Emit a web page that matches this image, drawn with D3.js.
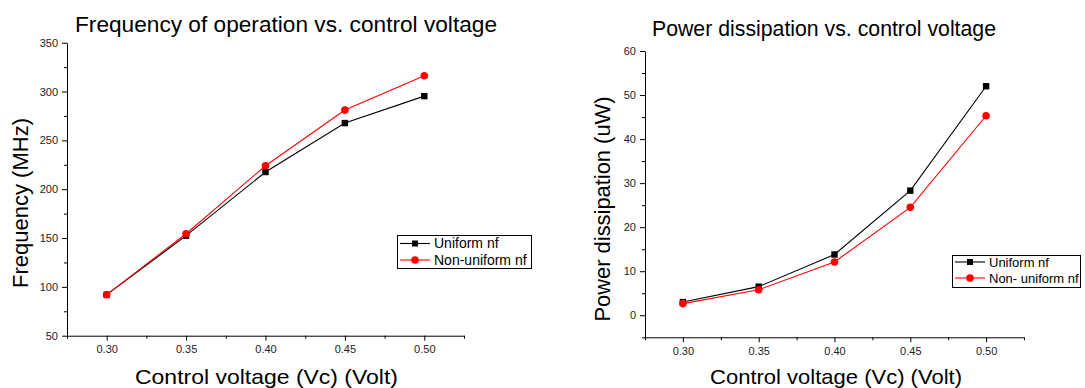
<!DOCTYPE html>
<html>
<head>
<meta charset="utf-8">
<script src="https://cdn.jsdelivr.net/npm/d3@7"></script>
<style>
  body { margin: 0; background: #fff; }
  svg { display: block; font-family: "Liberation Sans", Arial, sans-serif; }
  .tick text { fill: #222; }
</style>
</head>
<body>
<div class="charts"></div>
<script>
// data
const voltages = [0.30, 0.35, 0.40, 0.45, 0.50];
const freqUniform = [92, 152.4, 217.6, 267.7, 295.3];
const freqNonUniform = [92, 154.4, 224, 281, 316.2];
const powerUniform = [3.0, 6.5, 13.8, 28.3, 52.0];
const powerNonUniform = [2.65, 5.8, 12.1, 24.5, 45.3];
const freqTicks = [50, 100, 150, 200, 250, 300, 350];
const freqMinor = [75, 125, 175, 225, 275, 325];
const powerTicks = [0, 10, 20, 30, 40, 50, 60];
const powerMinor = [-5, 5, 15, 25, 35, 45, 55];
const voltMinor = [0.275, 0.325, 0.375, 0.425, 0.475, 0.525];

const svg = d3.select(".charts").append("svg")
  .attr("width", 1085)
  .attr("height", 388);

// text with a fixed drawn width (the original picture is a bit stretched)
function label(g, x, y, size, len, txt) {
  return g.append("text").attr("x", x).attr("y", y)
    .attr("text-anchor", "middle").attr("font-size", size)
    .attr("textLength", len).attr("lengthAdjust", "spacingAndGlyphs")
    .text(txt);
}

function drawChart(c) {
  let g = svg.append("g");
  let x = d3.scaleLinear().domain([0.275, 0.525]).range([c.x0, c.x1]);
  let y = d3.scaleLinear().domain(c.yDomain).range([c.y0, c.y1]);

  // minor ticks first
  g.append("g").attr("transform", "translate(0," + c.y0 + ")")
    .call(d3.axisBottom(x).tickValues(voltMinor).tickSize(3).tickFormat(""))
    .call(a => a.select(".domain").remove());
  g.append("g").attr("transform", "translate(" + c.x0 + ",0)")
    .call(d3.axisLeft(y).tickValues(c.yMinor).tickSize(3).tickFormat(""))
    .call(a => a.select(".domain").remove());

  g.append("g").attr("transform", "translate(0," + c.y0 + ")")
    .call(d3.axisBottom(x).tickValues(voltages).tickFormat(d3.format(".2f"))
      .tickSize(5).tickSizeOuter(0).tickPadding(5));
  g.append("g").attr("transform", "translate(" + c.x0 + ",0)")
    .call(d3.axisLeft(y).tickValues(c.yTicks).tickSize(5).tickSizeOuter(0).tickPadding(4));
  g.selectAll(".tick text").attr("font-size", 11).attr("font-family", "Liberation Sans");
  g.selectAll(".domain, .tick line").attr("stroke", "#000");

  // lines + markers
  let series = [
    {vals: c.s1, color: "#000", shape: "square"},
    {vals: c.s2, color: "#ff0000", shape: "circle"}
  ];
  let line = d3.line().x((d, i) => x(voltages[i])).y(d => y(d));
  series.forEach(s => {
    g.append("path").attr("d", line(s.vals))
      .attr("fill", "none").attr("stroke", s.color).attr("stroke-width", 1.1);
    if (s.shape == "square") {
      g.selectAll(null).data(s.vals).enter().append("rect")
        .attr("x", (d, i) => x(voltages[i]) - 3.2)
        .attr("y", d => y(d) - 3.2)
        .attr("width", 6.4).attr("height", 6.4)
        .attr("fill", s.color);
    } else {
      g.selectAll(null).data(s.vals).enter().append("circle")
        .attr("cx", (d, i) => x(voltages[i]))
        .attr("cy", d => y(d))
        .attr("r", 3.8)
        .attr("fill", s.color);
    }
  });

  // titles
  label(g, c.titleX, c.titleY, 21.5, c.titleLen, c.title);
  label(g, c.xLabelX, 384, 21, c.xLabelLen, "Control voltage (Vc) (Volt)");
  label(g, 0, 0, c.yLabelSize, c.yLabelLen, c.yLabel)
    .attr("transform", "translate(" + c.yLabelX + "," + c.yLabelY + ") rotate(-90)");

  // legend
  let lg = g.append("g").attr("transform", "translate(" + c.lg[0] + "," + c.lg[1] + ")");
  lg.append("rect").attr("x", 0.5).attr("y", 0.5).attr("width", c.lg[2]).attr("height", c.lg[3])
    .attr("fill", "#fff").attr("stroke", "#000").attr("stroke-width", 1);
  series.forEach((s, i) => {
    let yy = c.lgRows[i];
    lg.append("line").attr("x1", 3).attr("x2", 33).attr("y1", yy).attr("y2", yy)
      .attr("stroke", s.color).attr("stroke-width", 1.1);
    if (s.shape == "square") {
      lg.append("rect").attr("x", 18 - 3).attr("y", yy - 3).attr("width", 6).attr("height", 6).attr("fill", s.color);
    } else {
      lg.append("circle").attr("cx", 18).attr("cy", yy).attr("r", 3.8).attr("fill", s.color);
    }
    lg.append("text").attr("x", 37).attr("y", yy).attr("dy", "0.35em")
      .attr("font-size", c.lgFont).text(c.names[i]);
  });
}

drawChart({
  x0: 67, x1: 464, y0: 335.7, y1: 42.7, yDomain: [50, 350],
  yTicks: freqTicks, yMinor: freqMinor,
  s1: freqUniform, s2: freqNonUniform,
  title: "Frequency of operation vs. control voltage", titleX: 286, titleY: 32.3, titleLen: 422,
  xLabelX: 266.5, xLabelLen: 263,
  yLabel: "Frequency (MHz)", yLabelX: 28, yLabelY: 203, yLabelSize: 22, yLabelLen: 170,
  lg: [397, 235, 134, 33], lgRows: [8.5, 25], lgFont: 14,
  names: ["Uniform nf", "Non-uniform nf"]
});

drawChart({
  x0: 645, x1: 1024, y0: 337.3, y1: 51, yDomain: [-5, 60],
  yTicks: powerTicks, yMinor: powerMinor,
  s1: powerUniform, s2: powerNonUniform,
  title: "Power dissipation vs. control voltage", titleX: 824, titleY: 36, titleLen: 344,
  xLabelX: 836, xLabelLen: 252,
  yLabel: "Power dissipation (uW)", yLabelX: 610, yLabelY: 209, yLabelSize: 21.5, yLabelLen: 225,
  lg: [952, 255, 128, 32], lgRows: [7, 23], lgFont: 13,
  names: ["Uniform nf", "Non- uniform nf"]
});
</script>
</body>
</html>
